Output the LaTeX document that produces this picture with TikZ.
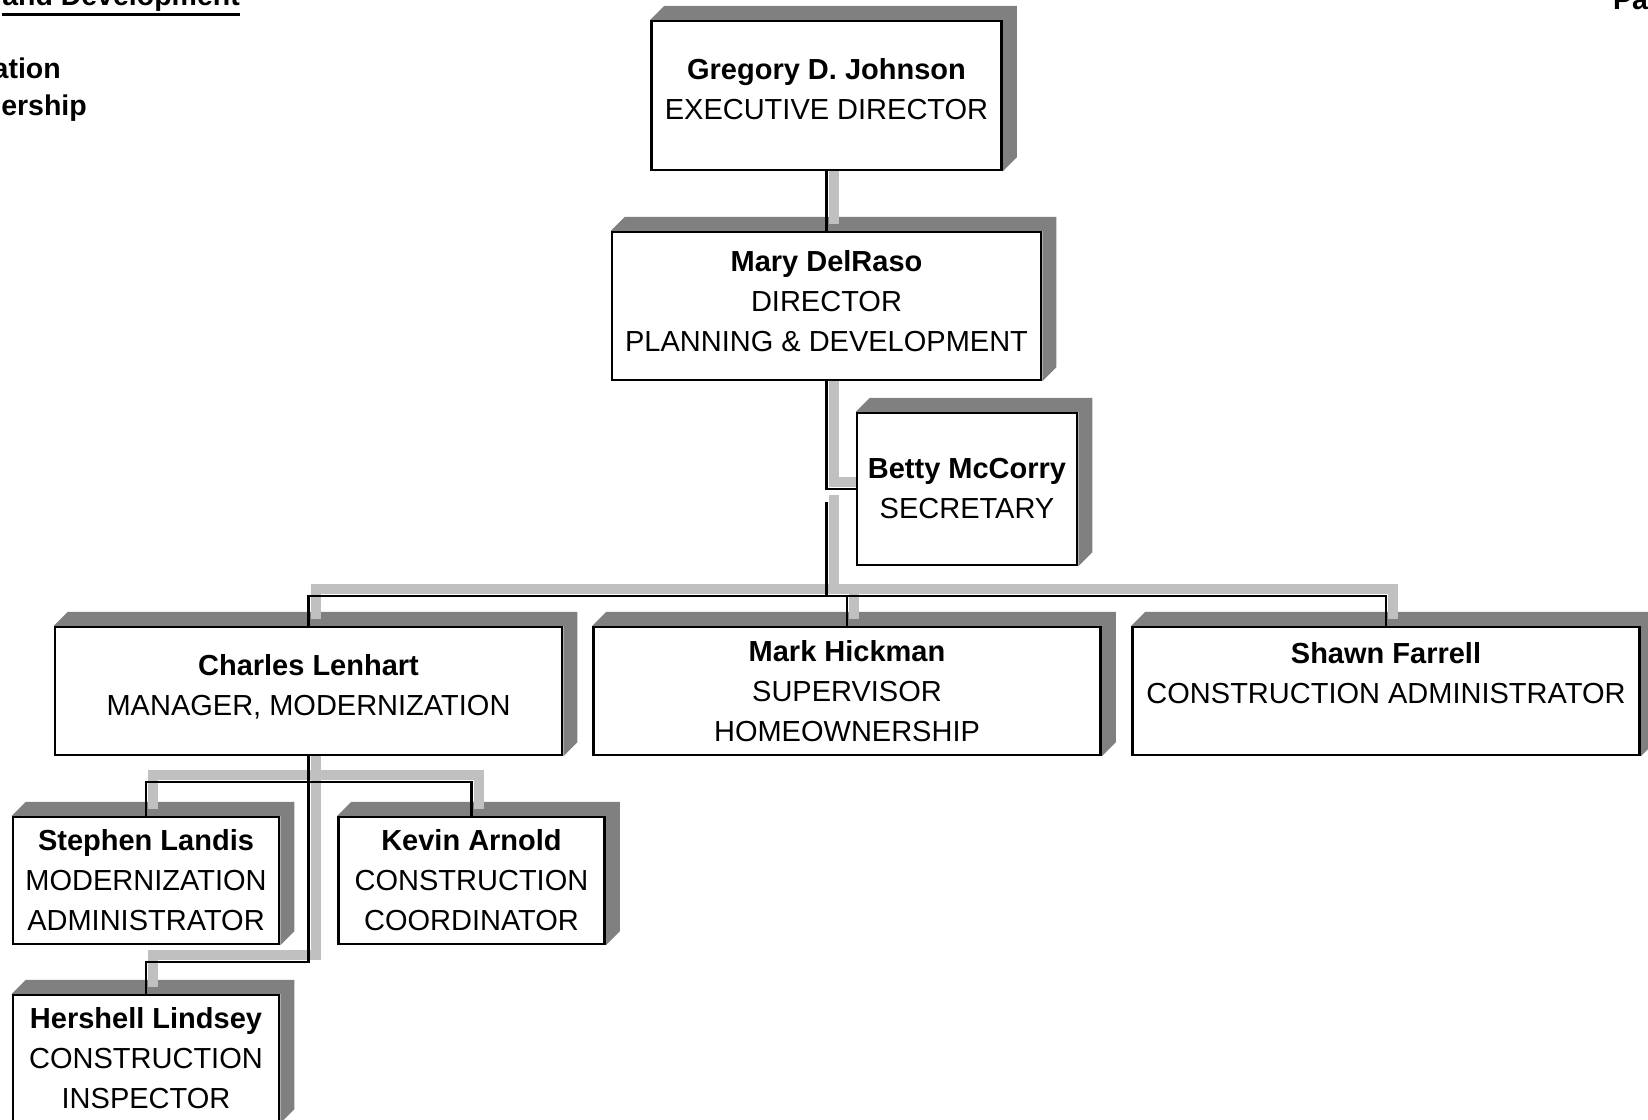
\documentclass[tikz,border=0pt]{standalone}
\usepackage{fontspec}
\setmainfont{Liberation Sans}
\usetikzlibrary{backgrounds}

\definecolor{sidegray}{HTML}{808080}
\definecolor{linkgray}{HTML}{C0C0C0}

\begin{document}
\begin{tikzpicture}[x=1pt,y=-1pt]
    \tikzset { post/.style = { shape=rectangle, draw, line width=2.5pt, fill=white, align=center, inner sep=0pt, font=\fontsize{29}{40}\selectfont } }
    \tikzset { widepost/.style = { post, minimum width=507pt, minimum height=128pt } }
    \tikzset { smallpost/.style = { post, minimum width=266pt, minimum height=127pt } }
    \tikzset { link/.style = { line width=2.5pt } }
    \tikzset { linkback/.style = { line width=10pt, linkgray, transform canvas={xshift=7pt,yshift=7pt} } }
    \tikzset { header/.style = { inner sep=0pt, font=\fontsize{28.5}{37}\selectfont\bfseries } }

    \useasboundingbox (0,0) rectangle (1648,1119);
    \clip (0,0) rectangle (1648,1119);

    % page header, cut by the page edges
    \node[header, anchor=base east] (title) at (240,5) {and Development};
    \draw[line width=3pt] ([yshift=-3pt]title.south west) -- ([yshift=-3pt]title.south east);
    \node[header, anchor=base east] (modern) at (61,78) {ation};
    \node[header, anchor=base east] (homeown) at (87,115) {ership};
    \node[header, anchor=base west] (pagenum) at (1613,9) {Pa};

    % boxes
    \node[post, minimum width=350pt, minimum height=149pt, text depth=13pt] (greg) at (826.5,95.5) {\textbf{Gregory D. Johnson}\\EXECUTIVE DIRECTOR};
    \node[post, minimum width=429pt, minimum height=148pt, text depth=11pt] (mary) at (826.5,306) {\textbf{Mary DelRaso}\\DIRECTOR\\PLANNING \& DEVELOPMENT};
    \node[post, minimum width=220pt, minimum height=152pt] (betty) at (967,489) {\textbf{Betty McCorry}\\SECRETARY};

    \node[widepost, text depth=11.5pt] (charles) at (308.5,691) {\textbf{Charles Lenhart}\\MANAGER, MODERNIZATION};
    \node[widepost] (mark) at (847,691) {\textbf{Mark Hickman}\\SUPERVISOR\\HOMEOWNERSHIP};
    \node[widepost, text depth=37pt] (shawn) at (1386,691) {\textbf{Shawn Farrell}\\CONSTRUCTION ADMINISTRATOR};

    \node[smallpost] (stephen) at (146,880.5) {\textbf{Stephen Landis}\\MODERNIZATION\\ADMINISTRATOR};
    \node[smallpost] (kevin) at (471.5,880.5) {\textbf{Kevin Arnold}\\CONSTRUCTION\\COORDINATOR};
    \node[smallpost] (hershell) at (146,1058.5) {\textbf{Hershell Lindsey}\\CONSTRUCTION\\INSPECTOR};

    \coordinate (split) at (826.5,502);
    \coordinate (bar) at (826.5,596);
    \coordinate (mid) at (308.5,782);
    \coordinate (low) at (308.5,962);

    \begin{scope}[on background layer]
      % raised sides of the boxes
      \foreach \n in {greg,mary,betty,charles,mark,shawn,stephen,kevin,hershell}
        \fill[sidegray] (\n.north west) -- ++(14,-14) -- ([shift={(14,-14)}]\n.north east)
          -- ([shift={(14,-14)}]\n.south east) -- (\n.south east) -- (\n.north east) -- cycle;

      % connectors, light band first, then the line
      \foreach \sty in {linkback,link} {
        \draw[\sty] (greg.south) -- (mary.north);
        \draw[\sty] (mary.south) |- (betty.west);
        \draw[\sty] (split) -- (bar) -| (charles.north);
        \draw[\sty] (bar) -| (shawn.north);
        \draw[\sty] (bar -| mark.north) -- (mark.north);
        \draw[\sty] (charles.south) -- (low) -| (hershell.north);
        \draw[\sty] (mid) -| (stephen.north);
        \draw[\sty] (mid) -| (kevin.north);
      }
    \end{scope}
\end{tikzpicture}
\end{document}
